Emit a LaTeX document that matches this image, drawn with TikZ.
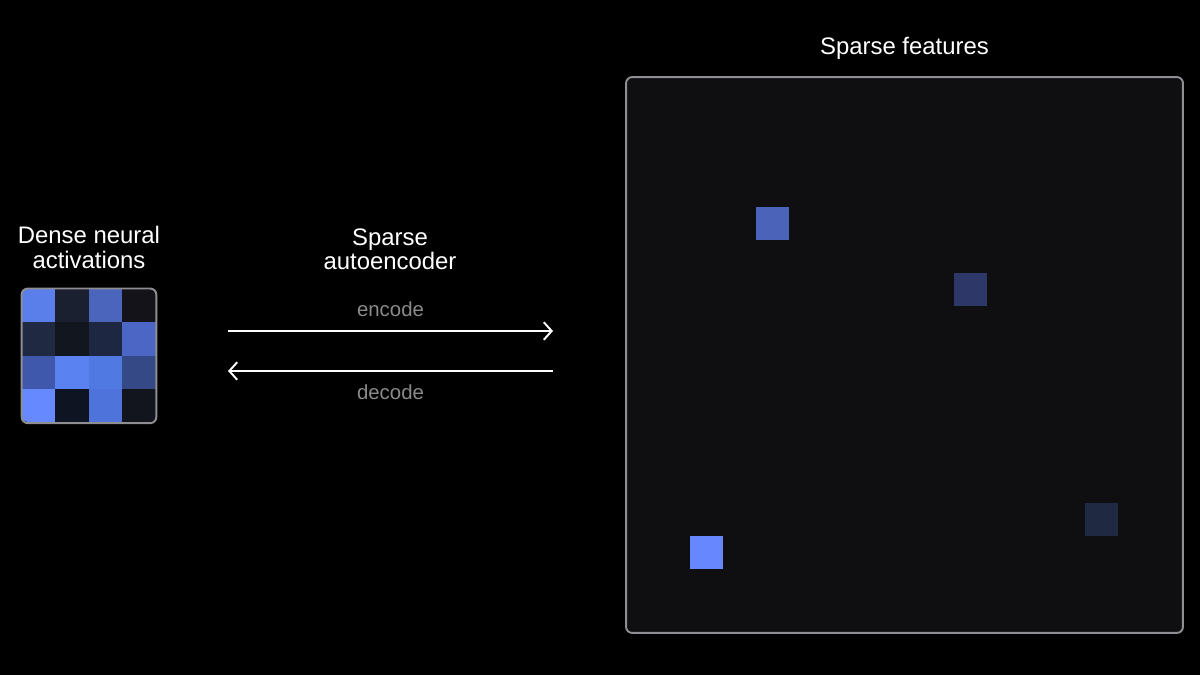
\documentclass[tikz,border=0pt]{standalone}
\usepackage{fontspec}
\setmainfont{Liberation Sans}
\usetikzlibrary{positioning,fit,arrows.meta}

\definecolor{act11}{HTML}{5B7FEA}
\definecolor{act12}{HTML}{1A2030}
\definecolor{act13}{HTML}{4B65BD}
\definecolor{act14}{HTML}{131319}
\definecolor{act21}{HTML}{1F2A42}
\definecolor{act22}{HTML}{12161F}
\definecolor{act23}{HTML}{1E2742}
\definecolor{act24}{HTML}{4B66C4}
\definecolor{act31}{HTML}{3F58AC}
\definecolor{act32}{HTML}{5A82F0}
\definecolor{act33}{HTML}{5079E2}
\definecolor{act34}{HTML}{344985}
\definecolor{act41}{HTML}{6689FF}
\definecolor{act42}{HTML}{0F1422}
\definecolor{act43}{HTML}{4E74DC}
\definecolor{act44}{HTML}{12141E}
\definecolor{featA}{HTML}{4C63BA}
\definecolor{featB}{HTML}{2D3869}
\definecolor{featC}{HTML}{6787FF}
\definecolor{featD}{HTML}{1F2942}
\definecolor{panel}{HTML}{0F0F12}
\definecolor{framegray}{HTML}{8E8E93}
\definecolor{labelgray}{HTML}{8A8A8A}

\tikzstyle{line} = [draw=white, line width=1.1pt, -{Straight Barb[length=4.5pt,width=10pt]}]
\tikzstyle{cell} = [rectangle, inner sep=0pt, minimum size=0.67cm]
\tikzstyle{feature} = [rectangle, inner sep=0pt, minimum size=0.66cm]
\tikzstyle{frame} = [rectangle, draw=framegray, line width=1.1pt, rounded corners=3.5pt]
\tikzstyle{title} = [text=white, font=\fontsize{13.6}{13.8}\selectfont, align=center]
\tikzstyle{small} = [text=labelgray, font=\fontsize{11.6}{12}\selectfont]

\begin{document}
\begin{tikzpicture}[x=0.02cm, y=-0.02cm, node distance=0.67cm]

\fill [black] (0,0) rectangle (1200,675);
\useasboundingbox (0,0) rectangle (1200,675);

% dense activations
\begin{scope}
\clip [rounded corners=3.5pt] (22,289) rectangle (156,422);
\node (c11) [cell,fill=act11] at (38.75,305.6) {};
\node (c12) [cell,fill=act12,right of=c11] {};
\node (c13) [cell,fill=act13,right of=c12] {};
\node (c14) [cell,fill=act14,right of=c13] {};

\node (c21) [cell,fill=act21,below of=c11] {};
\node (c22) [cell,fill=act22,right of=c21] {};
\node (c23) [cell,fill=act23,right of=c22] {};
\node (c24) [cell,fill=act24,right of=c23] {};

\node (c31) [cell,fill=act31,below of=c21] {};
\node (c32) [cell,fill=act32,right of=c31] {};
\node (c33) [cell,fill=act33,right of=c32] {};
\node (c34) [cell,fill=act34,right of=c33] {};

\node (c41) [cell,fill=act41,below of=c31] {};
\node (c42) [cell,fill=act42,right of=c41] {};
\node (c43) [cell,fill=act43,right of=c42] {};
\node (c44) [cell,fill=act44,right of=c43] {};
\end{scope}

\node (dense) [frame,inner sep=0pt,fit=(c11)(c44)] {};
\node (densetitle) [title,above=0.26cm of dense] {Dense neural\\activations};

% sparse features
\node (feat) [frame,fill=panel,minimum width=11.14cm,minimum height=11.12cm] at (904.5,355) {};
\node (feattitle) [title,above=0.2cm of feat] {Sparse features};

\node (f1) [feature,fill=featA] at (772.5,223.5) {};
\node (f2) [feature,fill=featB] at (970.5,289.5) {};
\node (f3) [feature,fill=featC] at (706.5,552.5) {};
\node (f4) [feature,fill=featD] at (1101.5,519.5) {};

% autoencoder
\node (sae) [title] at (390,249) {Sparse\\autoencoder};

\coordinate (encL) at (228,331);
\coordinate (encR) at (553,331);
\coordinate (decR) at (553,371);
\coordinate (decL) at (228,371);

\path [line] (encL) -- node [small,midway,above=4.5pt] (enc) {encode} (encR);
\path [line] (decR) -- node [small,midway,below=4pt] (dec) {decode} (decL);

\end{tikzpicture}
\end{document}
